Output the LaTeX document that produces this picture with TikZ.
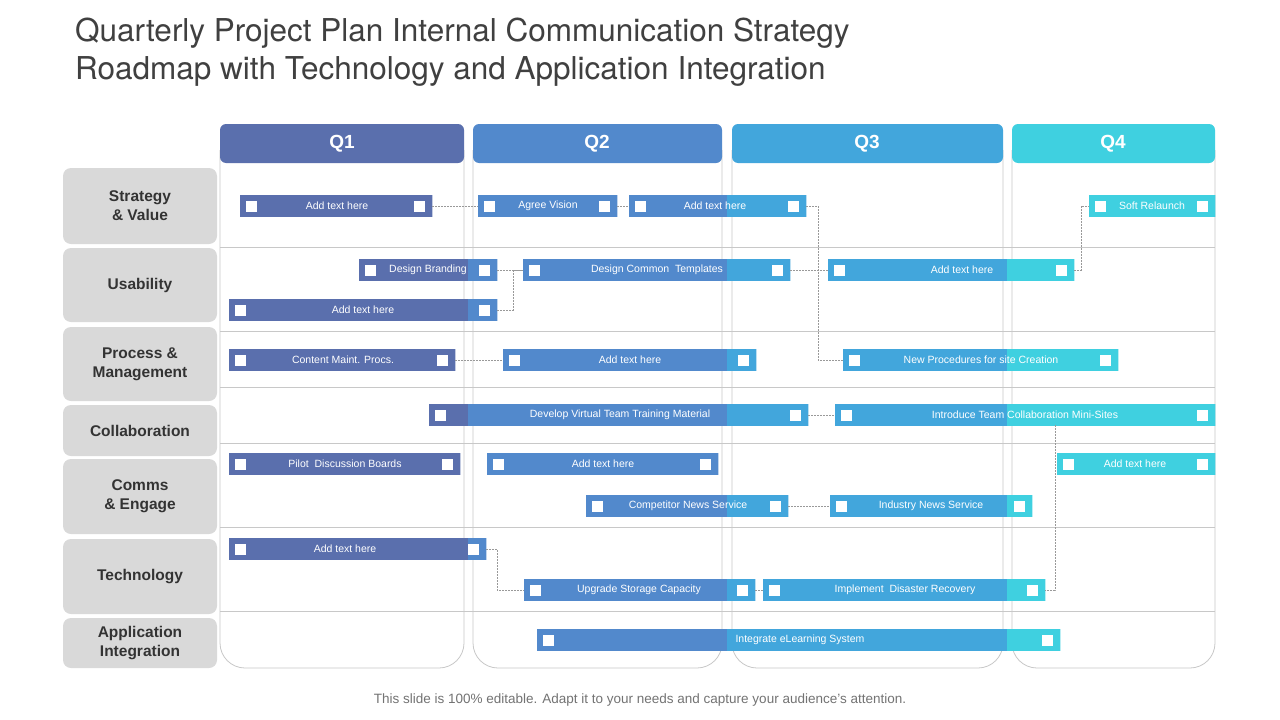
\documentclass[tikz,border=0pt]{standalone}
\usepackage{fontspec}
\setmainfont{Liberation Sans}
\newfontfamily\titlefont{TeX Gyre Heros}
\definecolor{cqa}{HTML}{5A6FAD}
\definecolor{cqb}{HTML}{5289CC}
\definecolor{cqc}{HTML}{42A6DC}
\definecolor{cqd}{HTML}{3FD0E0}
\definecolor{lgray}{HTML}{C8C8C8}
\definecolor{rowgray}{HTML}{D9D9D9}
\tikzset{
 barbox/.style={inner sep=0pt, minimum height=20pt, fill=cqa},
 sq/.style={fill=white, inner sep=0pt, minimum size=11pt},
 bartext/.style={text=white, font=\fontsize{10.5}{12}\selectfont, inner sep=0pt},
 link/.style={draw=gray!80, dashed, dash pattern=on 2pt off 1pt, line width=0.6pt},
 rowlab/.style={fill=rowgray, rounded corners=8pt, text=black!80, font=\fontsize{15.5}{19}\selectfont\bfseries, align=center, inner sep=0pt},
 colline/.style={draw=lgray, line width=0.8pt},
 head/.style={text=white, font=\fontsize{19}{22}\selectfont\bfseries, inner sep=0pt}
}
\newcommand\pbar[6]{% name, x1, x2, y, text, textx
 \node[barbox, minimum width={(#3-#2)*1pt}, anchor=west] (#1) at (#2,#4) {};
 \begin{scope}
 \clip (#1.south west) rectangle (#1.north east);
 \fill[cqa] (0,0) rectangle (468,720);
 \fill[cqb] (468,0) rectangle (727,720);
 \fill[cqc] (727,0) rectangle (1007,720);
 \fill[cqd] (1007,0) rectangle (1280,720);
 \end{scope}
 \node[sq] (#1l) at (#2+11,#4) {};
 \node[sq] (#1r) at (#3-13,#4) {};
 \node[bartext] (#1t) at (#6,#4) {#5};
}
\begin{document}
\begin{tikzpicture}[x=1pt,y=-1pt]
\useasboundingbox[fill=white] (0,0) rectangle (1280,720);
\node[anchor=west, text=black!75, font=\titlefont\fontsize{31.5}{38}\selectfont, inner sep=0pt] (title1) at (75,33) {Quarterly Project Plan Internal Communication Strategy};
\node[anchor=west, text=black!75, font=\titlefont\fontsize{31.5}{38}\selectfont, inner sep=0pt] (title2) at (75,71) {Roadmap with Technology and Application Integration};
% columns outlines
\foreach \a/\b in {220/464,473/722,732/1003,1012/1215}{
 \draw[colline, rounded corners=25pt] (\a,150) -- (\a,668) -- (\b,668) -- (\b,150);
}
% row separators
\foreach \yy in {247,331,387,443,527,611}{
 \draw[colline] (220,\yy) -- (1215,\yy);
}
% headers
\fill[cqa, rounded corners=6pt] (220,124) -- (464,124) -- (464,163) -- (220,163) -- cycle;
\fill[cqb, rounded corners=6pt] (473,124) rectangle (722,163);
\fill[cqc, rounded corners=6pt] (732,124) rectangle (1003,163);
\fill[cqd, rounded corners=6pt] (1012,124) rectangle (1215,163);
\node[head] (q1) at (342,144) {Q1};
\node[head] (q2) at (597,144) {Q2};
\node[head] (q3) at (867,144) {Q3};
\node[head] (q4) at (1113,144) {Q4};
% row labels
\node[rowlab, minimum width=154pt, minimum height=76pt] (r1) at (140,206) {Strategy\\\& Value};
\node[rowlab, minimum width=154pt, minimum height=74pt] (r2) at (140,285) {Usability};
\node[rowlab, minimum width=154pt, minimum height=74pt] (r3) at (140,364) {Process \&\\Management};
\node[rowlab, minimum width=154pt, minimum height=51pt] (r4) at (140,430.5) {Collaboration};
\node[rowlab, minimum width=154pt, minimum height=75pt] (r5) at (140,496.5) {Comms\\\& Engage};
\node[rowlab, minimum width=154pt, minimum height=75pt] (r6) at (140,576.5) {Technology};
\node[rowlab, minimum width=154pt, minimum height=50pt] (r7) at (140,643) {Application\\Integration};
% bars
\pbar{b1}{240}{432}{206}{Add text here}{337}
\pbar{b2}{478}{617}{206}{Agree Vision}{548}
\pbar{b3}{629}{806}{206}{Add text here}{715}
\pbar{b4}{1089}{1215}{206}{Soft Relaunch}{1152}
\pbar{b5}{359}{497}{270}{Design Branding}{428}
\pbar{b6}{523}{790}{270}{Design Common\ \ Templates}{657}
\pbar{b7}{828}{1074}{270}{Add text here}{962}
\pbar{b8}{229}{497}{310}{Add text here}{363}
\pbar{b9}{229}{455}{360}{Content Maint. Procs.}{343}
\pbar{b10}{503}{756}{360}{Add text here}{630}
\pbar{b11}{843}{1118}{360}{New Procedures for site Creation}{981}
\pbar{b12}{429}{808}{415}{Develop Virtual Team Training Material}{620}
\pbar{b13}{835}{1215}{415}{Introduce Team Collaboration Mini-Sites}{1025}
\pbar{b14}{229}{460}{464}{Pilot\ \ Discussion Boards}{345}
\pbar{b15}{487}{718}{464}{Add text here}{603}
\pbar{b16}{1057}{1215}{464}{Add text here}{1135}
\pbar{b17}{586}{788}{506}{Competitor News Service}{688}
\pbar{b18}{830}{1032}{506}{Industry News Service}{931}
\pbar{b19}{229}{486}{549}{Add text here}{345}
\pbar{b20}{524}{755}{590}{Upgrade Storage Capacity}{639}
\pbar{b21}{763}{1045}{590}{Implement\ \ Disaster Recovery}{905}
\pbar{b22}{537}{1060}{640}{Integrate eLearning System}{800}
% connectors
\draw[link] (b1.east) -- (b2.west);
\draw[link] (b2.east) -- (b3.west);
\draw[link] (b3.east) -- ++(12,0) |- (b11.west);
\draw[link] (b7.east) -- ++(7,0) |- (b4.west);
\draw[link] (b5.east) -- (b6.west);
\draw[link] (b8.east) -- ++(16,0) |- (b6.west);
\draw[link] (b6.east) -- (b7.west);
\draw[link] (b9.east) -- (b10.west);
\draw[link] (b12.east) -- (b13.west);
\coordinate (c13) at (1055,425);
\draw[link] (c13) |- (b21.east);
\draw[link] (b17.east) -- (b18.west);
\draw[link] (b19.east) -- ++(11,0) |- (b20.west);
\draw[link] (b20.east) -- (b21.west);
\node[text=black!55, font=\fontsize{13.5}{16}\selectfont, inner sep=0pt] (foot) at (640,700) {This slide is 100\% editable. Adapt it to your needs and capture your audience’s attention.};
\end{tikzpicture}
\end{document}
